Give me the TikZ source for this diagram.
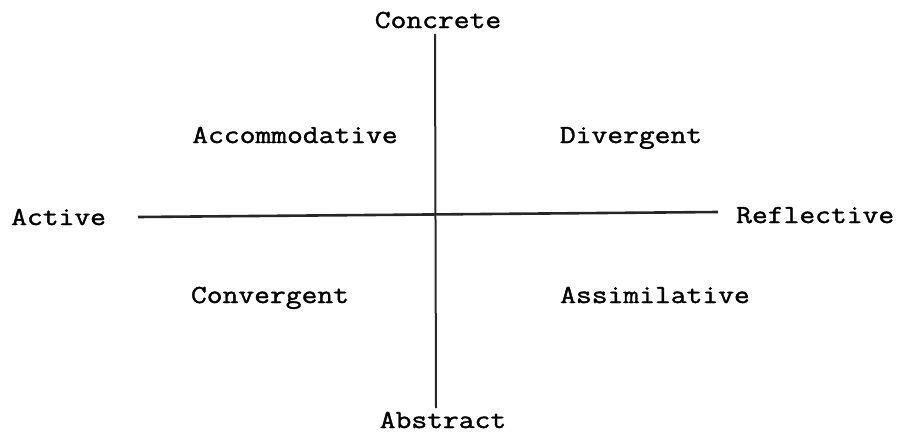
\documentclass[tikz,border=0pt]{standalone}
\usepackage{fontspec}
\setmonofont{Latin Modern Mono}[FakeStretch=1.18,FakeBold=1.4]
\begin{document}
\begin{tikzpicture}[x=1pt,y=-1pt,
  lbl/.style={anchor=base,inner sep=0pt,font=\fontsize{26}{26}\selectfont\ttfamily},
  axis/.style={line width=2.6pt,black!85}]
\useasboundingbox (0,0) rectangle (903,439);
\coordinate (top) at (435,34);
\coordinate (bot) at (436,408);
\coordinate (lft) at (138,217);
\coordinate (rgt) at (718,212);
\draw[axis,line width=2pt] (top) -- (bot);
\draw[axis] (lft) -- (rgt);
\node[lbl] (concrete) at (438,28) {Concrete};
\node[lbl] (abstract) at (443,428) {Abstract};
\node[lbl,anchor=base west] (active) at (11,225) {Active};
\node[lbl,anchor=base west] (reflective) at (736,223) {Reflective};
\node[lbl] (acc) at (295,143) {Accommodative};
\node[lbl] (div) at (631,143) {Divergent};
\node[lbl] (conv) at (270,303) {Convergent};
\node[lbl] (assim) at (655,303) {Assimilative};
\end{tikzpicture}
\end{document}
